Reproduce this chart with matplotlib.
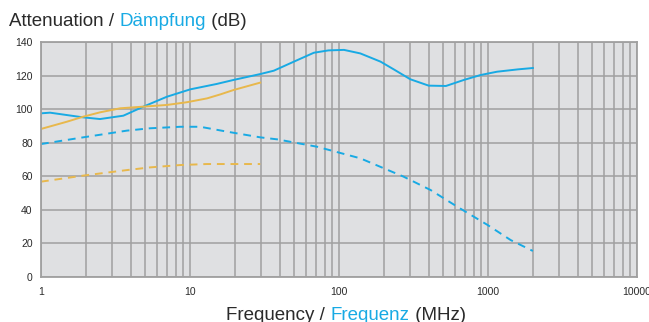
import matplotlib
matplotlib.use("Agg")
import matplotlib.pyplot as plt
from matplotlib.ticker import FixedLocator, NullFormatter

plt.rcParams["font.family"] = ["Liberation Sans", "DejaVu Sans"]

BLUE = "#18aae4"
ORANGE = "#e8b84c"
GRID = "#a0a0a0"
BG = "#dfe0e2"
TEXT = "#2a2a2a"

# Blue, solid
blue_f = [1, 1.15, 1.92, 2.49, 3.57, 4.87, 7.0, 10.05, 15.1, 19.6, 29.6, 36.5,
          49.8, 67.8, 85, 108, 139, 190, 233, 301, 400, 522, 689, 889, 1150, 1590, 2000]
blue_db = [97.5, 97.9, 95.1, 94.1, 96.1, 101.5, 107.4, 111.8, 115.0, 117.4, 120.9, 122.9,
           128.3, 133.6, 135.0, 135.3, 133.2, 128.3, 123.7, 117.8, 114.0, 113.8, 117.4,
           120.3, 122.3, 123.7, 124.5]

# Blue, dashed
blue_d_f = [1, 1.92, 3.77, 5.4, 8.6, 11.7, 17.7, 29.6, 38.5, 71.3, 139, 271, 412,
            621, 993, 1420, 2000]
blue_d_db = [79.2, 83.2, 87.2, 88.6, 89.5, 89.5, 86.6, 83.2, 82.0, 77.6, 70.7, 59.8,
             51.8, 41.9, 31.0, 22.0, 15.5]

# Orange, solid
orange_f = [1, 1.49, 1.92, 2.49, 3.4, 4.87, 7.0, 9.5, 13, 16, 19.6, 29.6]
orange_db = [88.2, 92.5, 95.5, 98.1, 100.5, 101.5, 102.5, 104.1, 106.4, 108.8, 111.4, 115.8]

# Orange, dashed
orange_d_f = [1, 1.92, 3.77, 5.4, 8.6, 13, 29.6]
orange_d_db = [56.8, 60.4, 63.7, 65.3, 66.7, 67.3, 67.3]

x_ticks = [1, 10, 100, 1000, 10000]
y_ticks = [0, 20, 40, 60, 80, 100, 120, 140]

fig = plt.figure(figsize=(6.49, 3.22), dpi=100)
ax = fig.add_axes([41 / 649, 45 / 322, 596 / 649, 235 / 322])
ax.set_facecolor(BG)

ax.plot(blue_f, blue_db, color=BLUE, lw=1.4)
ax.plot(blue_d_f, blue_d_db, color=BLUE, lw=1.4, dashes=(4, 3))
ax.plot(orange_f, orange_db, color=ORANGE, lw=1.4)
ax.plot(orange_d_f, orange_d_db, color=ORANGE, lw=1.4, dashes=(4, 3))

ax.set_xscale("log")
ax.set_xlim(1, 10000)
ax.set_ylim(0, 140)
ax.set_xticks(x_ticks)
ax.set_xticklabels([str(t) for t in x_ticks])
minors = [m * 10 ** e for e in range(4) for m in range(2, 10)]
ax.xaxis.set_minor_locator(FixedLocator(minors))
ax.xaxis.set_minor_formatter(NullFormatter())
ax.set_yticks(y_ticks)

ax.grid(which="both", axis="x", color=GRID, lw=1.1)
ax.grid(which="major", axis="y", color=GRID, lw=1.1)
ax.set_axisbelow(True)
for s in ax.spines.values():
    s.set_color(GRID)
    s.set_linewidth(1.3)
ax.tick_params(which="both", length=0, labelsize=7.5, colors=TEXT)
ax.tick_params(axis="x", pad=7)
ax.tick_params(axis="y", pad=6)

# title and x label with the German words in blue
title_parts = [("Attenuation / ", TEXT), ("Dämpfung", BLUE), (" (dB)", TEXT)]
xlab_parts = [("Frequency / ", TEXT), ("Frequenz", BLUE), (" (MHz)", TEXT)]


def coloured_text(parts, x, y, ha):
    r = fig.canvas.get_renderer()
    texts = []
    for s, c in parts:
        texts.append(fig.text(x, y, s, color=c, fontsize=13.5, va="baseline"))
    widths = [t.get_window_extent(r).width / fig.bbox.width for t in texts]
    total = sum(widths)
    start = x - total / 2 if ha == "center" else x
    for t, w in zip(texts, widths):
        t.set_x(start)
        start += w


coloured_text(title_parts, 9 / 649, 1 - 25.5 / 322, "left")
coloured_text(xlab_parts, 346 / 649, 1 - 320.5 / 322, "center")

fig.savefig("out.png", dpi=100)
